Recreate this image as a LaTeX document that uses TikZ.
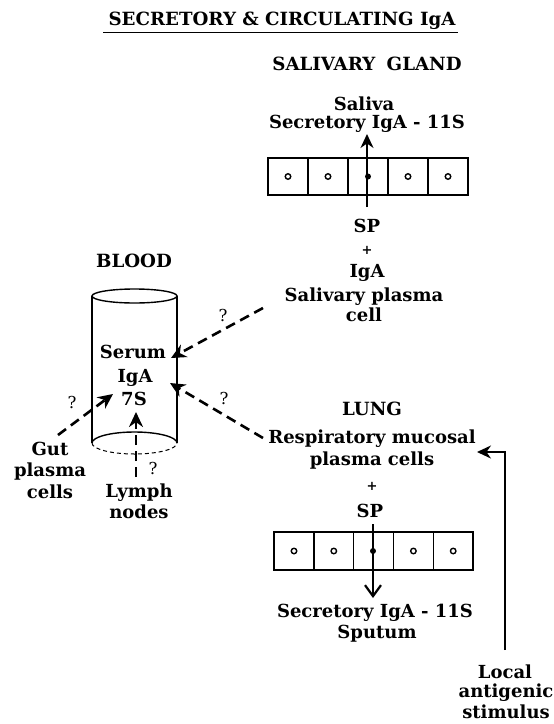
\documentclass[tikz,border=0pt]{standalone}
\usepackage{fontspec}
\setmainfont{DejaVu Serif}
\usetikzlibrary{arrows.meta}
\begin{document}
\begin{tikzpicture}[x=1pt,y=-1pt,
 lbl/.style={font=\bfseries\fontsize{18}{20}\selectfont, inner sep=0pt, anchor=base},
 ttl/.style={font=\bfseries\fontsize{18.2}{20}\selectfont, inner sep=0pt, anchor=base},
 plus/.style={font=\bfseries\fontsize{13}{14}\selectfont, inner sep=0pt},
 qm/.style={font=\fontsize{16.5}{18}\selectfont, inner sep=0pt},
 dasharrow/.style={line width=2.6pt, dash pattern=on 10pt off 6pt, -{Stealth[length=15pt,width=14pt]}},
 solidarrow/.style={line width=2.2pt, -{Stealth[length=14pt,width=13pt]}},
 barbarrow/.style={line width=2.2pt, -{Straight Barb[length=11pt,width=16pt,line width=2.2pt]}},
 cellbox/.style={draw, line width=1.3pt, minimum width=40pt, minimum height=37pt, inner sep=0pt},
 nucleus/.style={circle, draw, line width=1.4pt, minimum size=5.5pt, inner sep=0pt},
 cyl/.style={line width=1.4pt},
]
\useasboundingbox (0,0) rectangle (554,724);

% title
\node[ttl] (title) at (282,25) {SECRETORY \& CIRCULATING IgA};
\draw[line width=1pt] (103,32) -- (458,32);

% salivary gland
\node[ttl] (sg) at (367,70) {SALIVARY\hspace{5pt} GLAND};
\node[lbl] (saliva) at (364,110) {Saliva};
\node[lbl] (ssec) at (367,128) {Secretory IgA - 11S};
\foreach \i in {0,...,4}{
  \node[cellbox] (sc\i) at (288+40*\i,176.5) {};
}
\foreach \i in {0,1,3,4}{ \node[nucleus] (sn\i) at (sc\i.center) {}; }
\fill (sc2.center) circle (3pt);
\coordinate (sTop) at (367,134);
\coordinate (sBot) at (367,207);
\draw[solidarrow] (sBot) -- (sTop);
\node[lbl] (ssp) at (367,232) {SP};
\node[plus] (splus) at (367,250) {+};
\node[lbl] (siga) at (367,277) {IgA};
\node[lbl] (spl) at (364,301) {Salivary plasma};
\node[lbl] (scell) at (364,321) {cell};

% blood cylinder
\node[ttl] (blood) at (134,267) {BLOOD};
\draw[cyl] (134.5,296) ellipse [x radius=42.5, y radius=7];
\draw[cyl] (92,296) -- (92,443);
\draw[cyl] (177,296) -- (177,443);
\draw[cyl] (92,443) arc[start angle=180, end angle=360, x radius=42.5, y radius=11];
\draw[line width=1pt, dash pattern=on 4pt off 3pt] (92,443) arc[start angle=180, end angle=0, x radius=42.5, y radius=11];
\node[lbl] (serum) at (133,358) {Serum};
\node[lbl] (ciga) at (135,382) {IgA};
\node[lbl] (s7) at (134,405) {7S};

% arrows into blood
\coordinate (salStart) at (263,308);
\coordinate (salTip) at (171,358);
\draw[dasharrow] (salStart) -- (salTip);
\node[qm] (q1) at (223,315) {?};

\coordinate (lungStart) at (263,438);
\coordinate (lungTip) at (170,383);
\draw[dasharrow] (lungStart) -- (lungTip);
\node[qm] (q2) at (224,398) {?};

\coordinate (gutStart) at (58,435);
\coordinate (gutTip) at (113,394);
\draw[dasharrow] (gutStart) -- (gutTip);
\node[qm] (q3) at (72,402) {?};

\coordinate (lymStart) at (136,477);
\coordinate (lymTip) at (136,412);
\draw[dasharrow] (lymStart) -- (lymTip);
\node[qm] (q4) at (153,468) {?};

\node[lbl] (gut) at (50,455) {Gut};
\node[lbl] (gplasma) at (50,476) {plasma};
\node[lbl] (gcells) at (50,498) {cells};
\node[lbl] (lymph) at (139,497) {Lymph};
\node[lbl] (nodes) at (139,518) {nodes};

% lung
\node[ttl] (lung) at (372,415) {LUNG};
\node[lbl] (resp) at (372,443) {Respiratory mucosal};
\node[lbl] (lplasma) at (372,465) {plasma cells};
\node[plus] (lplus) at (372,486) {+};
\node[lbl] (lsp) at (370,517) {SP};
\foreach \i in {0,...,4}{
  \node[cellbox, minimum width=39.8pt, minimum height=38pt] (lc\i) at (294+39.8*\i,551) {};
}
\foreach \i in {0,1,3,4}{ \node[nucleus] (ln\i) at (lc\i.center) {}; }
\fill (373,551) circle (3pt);
\coordinate (lTop) at (373,524);
\coordinate (lBot) at (373,598);
\draw[barbarrow] (lTop) -- (lBot);
\node[lbl] (lsec) at (375,617) {Secretory IgA - 11S};
\node[lbl] (sputum) at (377,638) {Sputum};

% local antigenic stimulus
\node[lbl] (local) at (505,678) {Local};
\node[lbl] (antig) at (506,697) {antigenic};
\node[lbl] (stim) at (506,718) {stimulus};
\coordinate (locBot) at (505,650);
\coordinate (locCorner) at (505,452);
\coordinate (locTip) at (477,452);
\draw[solidarrow] (locBot) -- (locCorner) -- (locTip);
\end{tikzpicture}
\end{document}
